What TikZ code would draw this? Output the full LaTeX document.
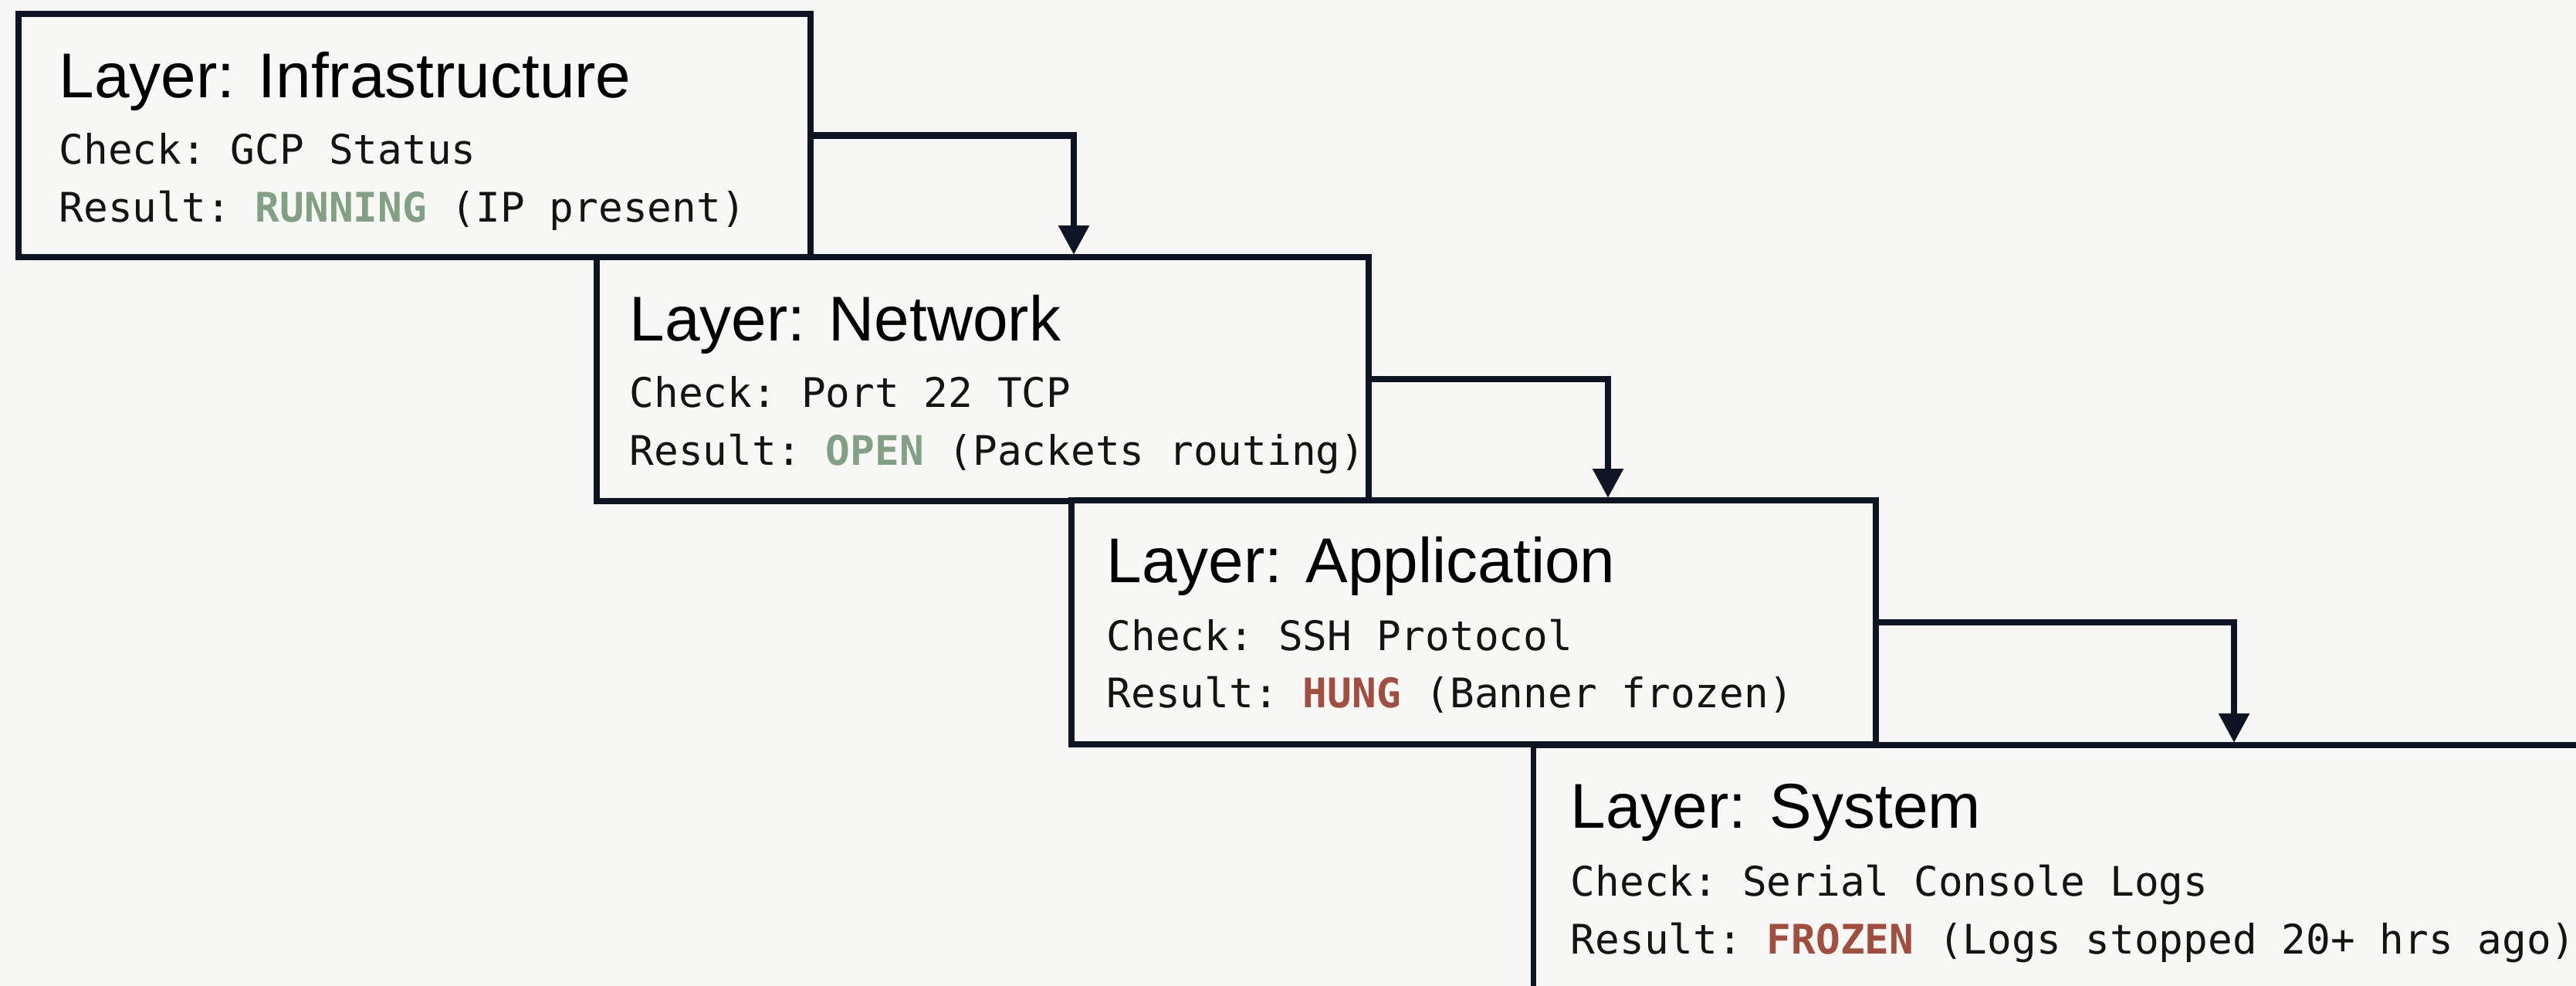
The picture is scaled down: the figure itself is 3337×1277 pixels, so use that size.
\documentclass[tikz,border=0pt]{standalone}
\usepackage{fontspec}
\setmainfont{Liberation Sans}
\setmonofont{DejaVu Sans Mono}
\usetikzlibrary{arrows.meta}

\definecolor{ink}{HTML}{0D1424}
\definecolor{paper}{HTML}{F6F6F4}
\definecolor{boxfill}{HTML}{F7F7F5}
\definecolor{okgreen}{HTML}{82A084}
\definecolor{badred}{HTML}{A24E3E}

\tikzset{
  layerbox/.style={draw=ink, line width=2.2pt, fill=boxfill, rectangle, inner sep=0pt},
  layertitle/.style={anchor=base west, inner sep=0pt, text=black,
    font=\fontsize{23.3}{28}\selectfont},
  detail/.style={anchor=base west, inner sep=0pt, text=black!92,
    font=\ttfamily\fontsize{15}{18}\selectfont},
  flow/.style={draw=ink, line width=2.5pt, -{Triangle[width=10.8pt,length=10.8pt]}},
}
\newcommand{\okword}[1]{\textcolor{okgreen}{\bfseries #1}}
\newcommand{\badword}[1]{\textcolor{badred}{\bfseries #1}}

\begin{document}
\begin{tikzpicture}[x=0.01cm, y=-0.01cm]
  \useasboundingbox (0,0) rectangle (3337,1277);
  \clip (0,0) rectangle (3337,1277);
  \fill[paper] (0,0) rectangle (3337,1277);

  % layer boxes
  \node[layerbox, minimum width=10.26cm, minimum height=3.15cm] (b1) at (537,175.5) {};
  \node[layerbox, minimum width=10.00cm, minimum height=3.16cm] (b2) at (1273,491) {};
  \node[layerbox, minimum width=10.42cm, minimum height=3.16cm] (b3) at (1909,806) {};
  \node[layerbox, minimum width=14.13cm, minimum height=3.35cm] (b4) at (2693.5,1132.5) {};

  % infrastructure
  \node[layertitle] (t1) at (76,127) {Layer: Infrastructure};
  \node[detail] (c1) at (76,213) {Check: GCP Status};
  \node[detail] (r1) at (76,288) {Result: \okword{RUNNING} (IP present)};

  % network
  \node[layertitle] (t2) at (815,442) {Layer: Network};
  \node[detail] (c2) at (815,528) {Check: Port 22 TCP};
  \node[detail] (r2) at (815,603) {Result: \okword{OPEN} (Packets routing)};

  % application
  \node[layertitle] (t3) at (1433,755) {Layer: Application};
  \node[detail] (c3) at (1433,843) {Check: SSH Protocol};
  \node[detail] (r3) at (1433,917) {Result: \badword{HUNG} (Banner frozen)};

  % system
  \node[layertitle] (t4) at (2034,1072) {Layer: System};
  \node[detail] (c4) at (2034,1160) {Check: Serial Console Logs};
  \node[detail] (r4) at (2034,1235) {Result: \badword{FROZEN} (Logs stopped 20+ hrs ago)};

  % arrow landing points on the next box
  \coordinate (a2) at (1391,330);
  \coordinate (a3) at (2083,645);
  \coordinate (a4) at (2894,962);

  \draw[flow] (b1.east) -| (a2);
  \draw[flow] (b2.east) -| (a3);
  \draw[flow] (b3.east) -| (a4);
\end{tikzpicture}
\end{document}
